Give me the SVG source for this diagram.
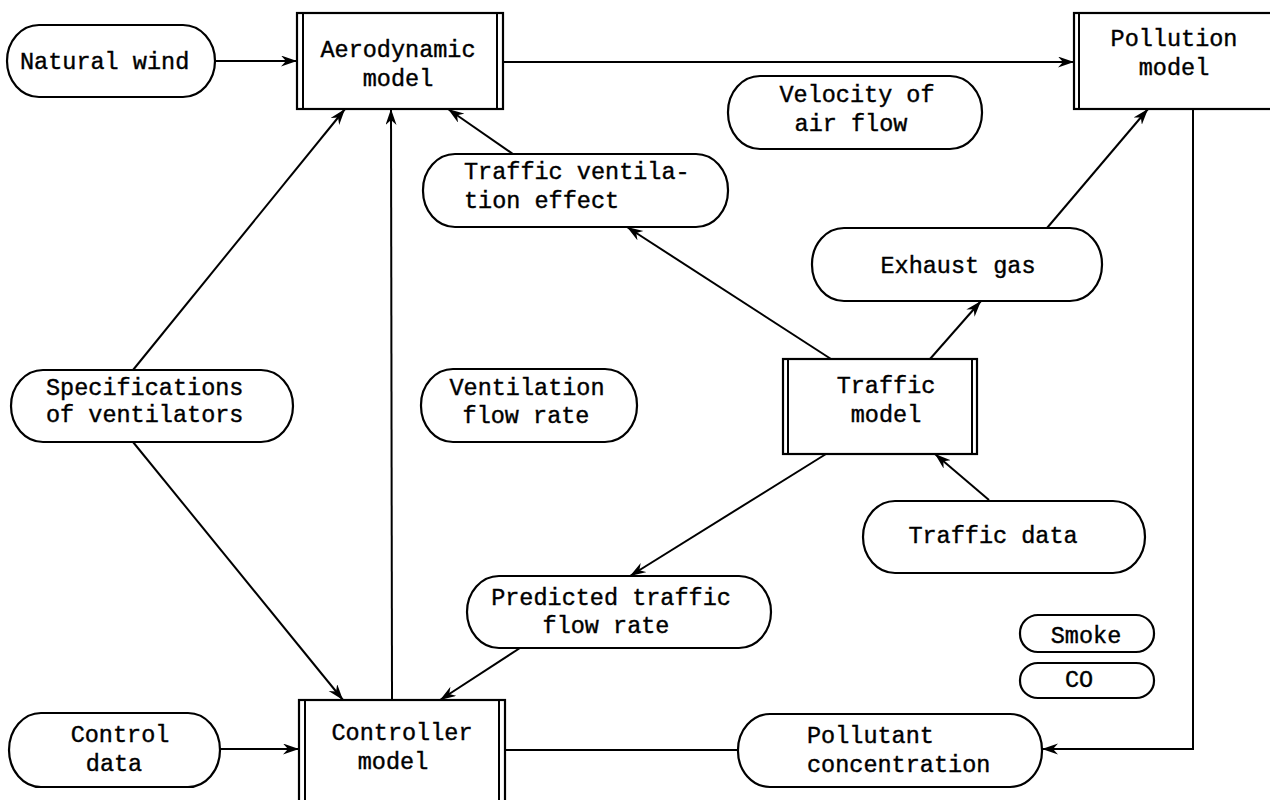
<svg xmlns="http://www.w3.org/2000/svg" width="1270" height="800" viewBox="0 0 1270 800">
<style>
.bg{fill:#ffffff}
.box{fill:#ffffff;stroke:#000;stroke-width:2.2}
.dbl{stroke:#000;stroke-width:2}
.pill{fill:#ffffff;stroke:#000;stroke-width:2.2}
.t{font-family:"Liberation Mono","DejaVu Sans Mono",monospace;font-size:23.5px;fill:#000;stroke:#000;stroke-width:0.4}
.c{text-anchor:middle}
.e{stroke:#000;stroke-width:2;fill:none}
</style>
<defs>
<marker id="arr" markerUnits="userSpaceOnUse" markerWidth="18" markerHeight="12" refX="16" refY="5.5" orient="auto">
<path d="M0,0 L16,5.5 L0,11 L5,5.5 Z" fill="#000"/>
</marker>
</defs>
<rect class="bg" x="0" y="0" width="1270" height="800"/>

<g id="connectors">
<line class="e" x1="215" y1="61" x2="297" y2="61" marker-end="url(#arr)"/>
<line class="e" x1="503" y1="62" x2="1074" y2="62" marker-end="url(#arr)"/>
<line class="e" x1="133" y1="370" x2="345" y2="109" marker-end="url(#arr)"/>
<line class="e" x1="133" y1="442" x2="343" y2="700" marker-end="url(#arr)"/>
<line class="e" x1="392" y1="700" x2="391" y2="109" marker-end="url(#arr)"/>
<line class="e" x1="513" y1="154" x2="448" y2="109" marker-end="url(#arr)"/>
<line class="e" x1="831" y1="359" x2="627" y2="227" marker-end="url(#arr)"/>
<line class="e" x1="930" y1="359" x2="981" y2="301" marker-end="url(#arr)"/>
<line class="e" x1="1047" y1="228" x2="1148" y2="109" marker-end="url(#arr)"/>
<line class="e" x1="989" y1="500" x2="935" y2="454" marker-end="url(#arr)"/>
<line class="e" x1="826" y1="454" x2="630" y2="576" marker-end="url(#arr)"/>
<line class="e" x1="520" y1="648" x2="440" y2="700" marker-end="url(#arr)"/>
<line class="e" x1="220" y1="749" x2="299" y2="749" marker-end="url(#arr)"/>
<line class="e" x1="505" y1="750" x2="738" y2="750"/>
<polyline class="e" points="1193,109 1193,749 1042,749" marker-end="url(#arr)"/>
</g>

<g id="natural-wind">
<rect class="pill" x="7" y="25" width="208" height="72" rx="32" ry="36"/>
<text class="t" x="20" y="69">Natural wind</text>
</g>

<g id="aerodynamic-model">
<rect class="box" x="297" y="13" width="206" height="96"/>
<line class="dbl" x1="303" y1="13" x2="303" y2="109"/>
<line class="dbl" x1="497" y1="13" x2="497" y2="109"/>
<text class="t c" x="398" y="57">Aerodynamic</text>
<text class="t c" x="398" y="86">model</text>
</g>

<g id="pollution-model">
<rect class="box" x="1074" y="13" width="220" height="96"/>
<line class="dbl" x1="1079" y1="13" x2="1079" y2="109"/>
<text class="t c" x="1174" y="46">Pollution</text>
<text class="t c" x="1174" y="75">model</text>
</g>

<g id="velocity-of-air-flow">
<rect class="pill" x="728" y="76" width="254" height="73" rx="32" ry="36"/>
<text class="t c" x="857" y="102">Velocity of</text>
<text class="t c" x="851" y="131">air flow</text>
</g>

<g id="traffic-ventilation-effect">
<rect class="pill" x="423" y="154" width="305" height="73" rx="32" ry="36"/>
<text class="t" x="464" y="179">Traffic ventila-</text>
<text class="t" x="464" y="208">tion effect</text>
</g>

<g id="exhaust-gas">
<rect class="pill" x="812" y="228" width="290" height="73" rx="32" ry="36"/>
<text class="t c" x="958" y="273">Exhaust gas</text>
</g>

<g id="specifications-of-ventilators">
<rect class="pill" x="11" y="370" width="282" height="72" rx="32" ry="36"/>
<text class="t" x="46" y="395">Specifications</text>
<text class="t" x="46" y="422">of ventilators</text>
</g>

<g id="ventilation-flow-rate">
<rect class="pill" x="421" y="369" width="216" height="73" rx="32" ry="36"/>
<text class="t c" x="527" y="395">Ventilation</text>
<text class="t c" x="526" y="423">flow rate</text>
</g>

<g id="traffic-model">
<rect class="box" x="783" y="359" width="194" height="95"/>
<line class="dbl" x1="788" y1="359" x2="788" y2="454"/>
<line class="dbl" x1="972" y1="359" x2="972" y2="454"/>
<text class="t c" x="886" y="393">Traffic</text>
<text class="t c" x="886" y="422">model</text>
</g>

<g id="traffic-data">
<rect class="pill" x="863" y="501" width="282" height="72" rx="32" ry="36"/>
<text class="t c" x="993" y="543">Traffic data</text>
</g>

<g id="predicted-traffic-flow-rate">
<rect class="pill" x="467" y="576" width="304" height="72" rx="32" ry="36"/>
<text class="t c" x="611" y="605">Predicted traffic</text>
<text class="t c" x="606" y="633">flow rate</text>
</g>

<g id="smoke">
<rect class="pill" x="1020" y="615" width="134" height="37" rx="18" ry="18"/>
<text class="t c" x="1086" y="643">Smoke</text>
</g>

<g id="co">
<rect class="pill" x="1020" y="663" width="134" height="35" rx="18" ry="17"/>
<text class="t c" x="1079" y="687">CO</text>
</g>

<g id="control-data">
<rect class="pill" x="9" y="713" width="211" height="74" rx="32" ry="37"/>
<text class="t c" x="120" y="742">Control</text>
<text class="t c" x="114" y="771">data</text>
</g>

<g id="controller-model">
<rect class="box" x="299" y="700" width="206" height="110"/>
<line class="dbl" x1="305" y1="700" x2="305" y2="810"/>
<line class="dbl" x1="499" y1="700" x2="499" y2="810"/>
<text class="t c" x="402" y="740">Controller</text>
<text class="t c" x="393" y="769">model</text>
</g>

<g id="pollutant-concentration">
<rect class="pill" x="738" y="714" width="304" height="73" rx="32" ry="36"/>
<text class="t" x="807" y="743">Pollutant</text>
<text class="t" x="807" y="772">concentration</text>
</g>
</svg>
